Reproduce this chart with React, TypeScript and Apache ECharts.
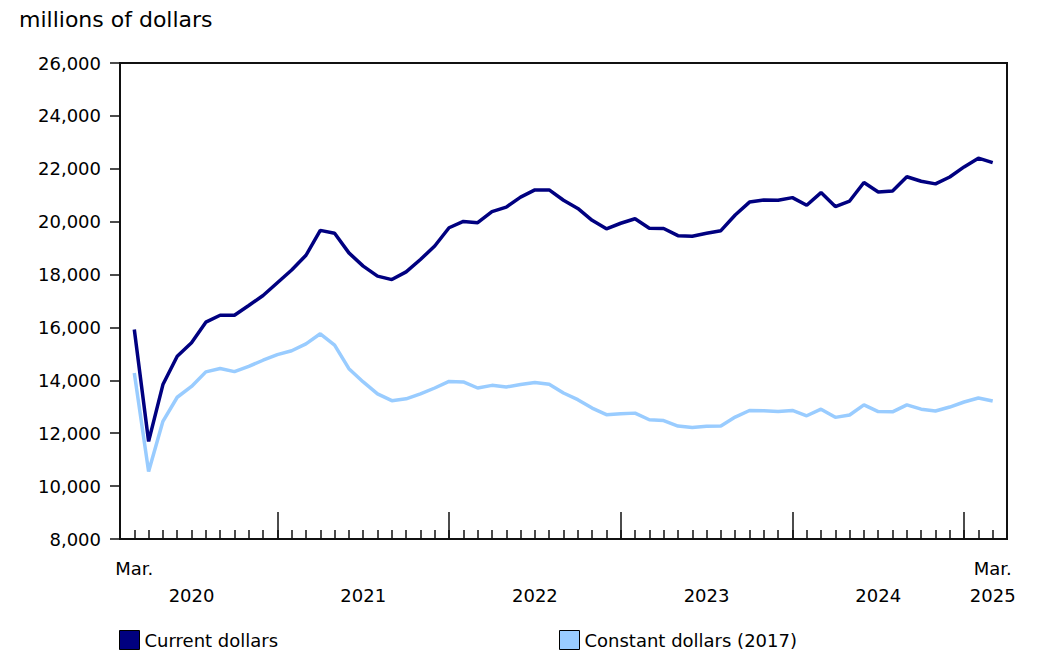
import React, { useEffect, useRef } from "react";
import * as echarts from "echarts";

const currentDollars = [
  15920, 11690, 13840, 14910, 15420, 16200, 16460, 16460, 16830, 17210,
  17690, 18170, 18730, 19670, 19560, 18820, 18320, 17940, 17810, 18100,
  18570, 19080, 19770, 20010, 19960, 20380, 20550, 20930, 21200, 21200,
  20810, 20500, 20050, 19730, 19940, 20110, 19750, 19740, 19470, 19450,
  19560, 19660, 20250, 20740, 20820, 20810, 20910, 20620, 21100, 20570,
  20780, 21480, 21120, 21160, 21700, 21530, 21430, 21690, 22070, 22400,
  22230,
];

const constantDollars = [
  14280, 10550, 12450, 13360, 13770, 14320, 14450, 14330, 14530, 14760,
  14970, 15120, 15380, 15760, 15330, 14440, 13940, 13490, 13230, 13300,
  13490, 13710, 13960, 13940, 13710, 13810, 13750, 13840, 13920, 13850,
  13520, 13270, 12950, 12700, 12740, 12760, 12510, 12480, 12270, 12220,
  12260, 12270, 12610, 12860, 12850, 12820, 12860, 12660, 12910, 12600,
  12690, 13070, 12820, 12810, 13070, 12910, 12840, 12990, 13180, 13330,
  13220,
];

const seriesNames = ["Current dollars", "Constant dollars (2017)"];
const seriesColors = ["#000080", "#99CCFF"];

// x-axis labels: index -> [line1, line2]
const xLabelIndex = [0, 4, 16, 28, 40, 52, 60];
const xLabelTop = ["Mar.", " ", " ", " ", " ", " ", "Mar."];
const xLabelBottom = [" ", "2020", "2021", "2022", "2023", "2024", "2025"];
const januaryIndex = [10, 22, 34, 46, 58];

const FONT = "DejaVu Sans";

export default function App() {
  const ref = useRef<HTMLDivElement>(null);

  useEffect(() => {
    document.body.style.margin = "0";
    if (!ref.current) return;
    const chart = echarts.init(ref.current, undefined, { renderer: "svg" });
    const monthIdx = currentDollars.map((_, i) => i);
    const axisMin = -1;
    const axisMax = currentDollars.length;

    const legendBase = {
      top: 625,
      icon: "rect",
      itemWidth: 20,
      itemHeight: 19,
      itemGap: 6,
      itemStyle: { borderColor: "#000", borderWidth: 1 },
      textStyle: { fontFamily: FONT, fontSize: 18, color: "#000" },
    };

    chart.setOption({
      animation: false,
      backgroundColor: "#fff",
      title: {
        text: "millions of dollars",
        left: 14,
        top: 3,
        textStyle: { fontFamily: FONT, fontSize: 22, fontWeight: "normal", color: "#000" },
      },
      legend: [
        { ...legendBase, data: [seriesNames[0]], left: 114 },
        { ...legendBase, data: [seriesNames[1]], left: 554 },
      ],
      grid: {
        left: 120,
        right: 45,
        top: 63,
        bottom: 127,
        show: true,
        borderColor: "#111",
        borderWidth: 2,
        containLabel: false,
      },
      xAxis: [
        {
          type: "value",
          min: axisMin,
          max: axisMax,
          interval: 1,
          axisLine: { show: true, onZero: false, lineStyle: { color: "#111", width: 2 } },
          splitLine: { show: false },
          axisTick: {
            show: true,
            inside: true,
            length: 9,
            customValues: monthIdx,
            lineStyle: { color: "#111", width: 1.5 },
          },
          axisLabel: {
            show: true,
            customValues: xLabelIndex,
            margin: 16,
            fontFamily: FONT,
            fontSize: 18,
            lineHeight: 27,
            color: "#000",
            formatter: (v: number) => {
              const k = xLabelIndex.indexOf(Math.round(v));
              if (k < 0) return "";
              return xLabelTop[k] + "\n" + xLabelBottom[k];
            },
          },
        },
        {
          type: "value",
          position: "bottom",
          min: axisMin,
          max: axisMax,
          interval: 1,
          axisLine: { show: false, onZero: false },
          splitLine: { show: false },
          axisLabel: { show: false },
          axisTick: {
            show: true,
            inside: true,
            length: 27,
            customValues: januaryIndex,
            lineStyle: { color: "#111", width: 1.5 },
          },
        },
      ],
      yAxis: {
        type: "value",
        min: 8000,
        max: 26000,
        interval: 2000,
        axisLine: { show: true, onZero: false, lineStyle: { color: "#111", width: 2 } },
        splitLine: { show: false },
        axisTick: { show: true, inside: false, length: 10, lineStyle: { color: "#111", width: 1.5 } },
        axisLabel: {
          margin: 19,
          fontFamily: FONT,
          fontSize: 18,
          color: "#000",
          formatter: (v: number) => v.toLocaleString("en-US"),
        },
      },
      series: [
        {
          name: seriesNames[1],
          type: "line",
          xAxisIndex: 0,
          data: constantDollars.map((v, i) => [i, v]),
          symbol: "none",
          color: seriesColors[1],
          lineStyle: { color: seriesColors[1], width: 3.5 },
        },
        {
          name: seriesNames[0],
          type: "line",
          xAxisIndex: 0,
          data: currentDollars.map((v, i) => [i, v]),
          symbol: "none",
          color: seriesColors[0],
          lineStyle: { color: seriesColors[0], width: 3.5 },
        },
      ],
    });

    return () => chart.dispose();
  }, []);

  return <div ref={ref} style={{ width: 1052, height: 666 }} />;
}
